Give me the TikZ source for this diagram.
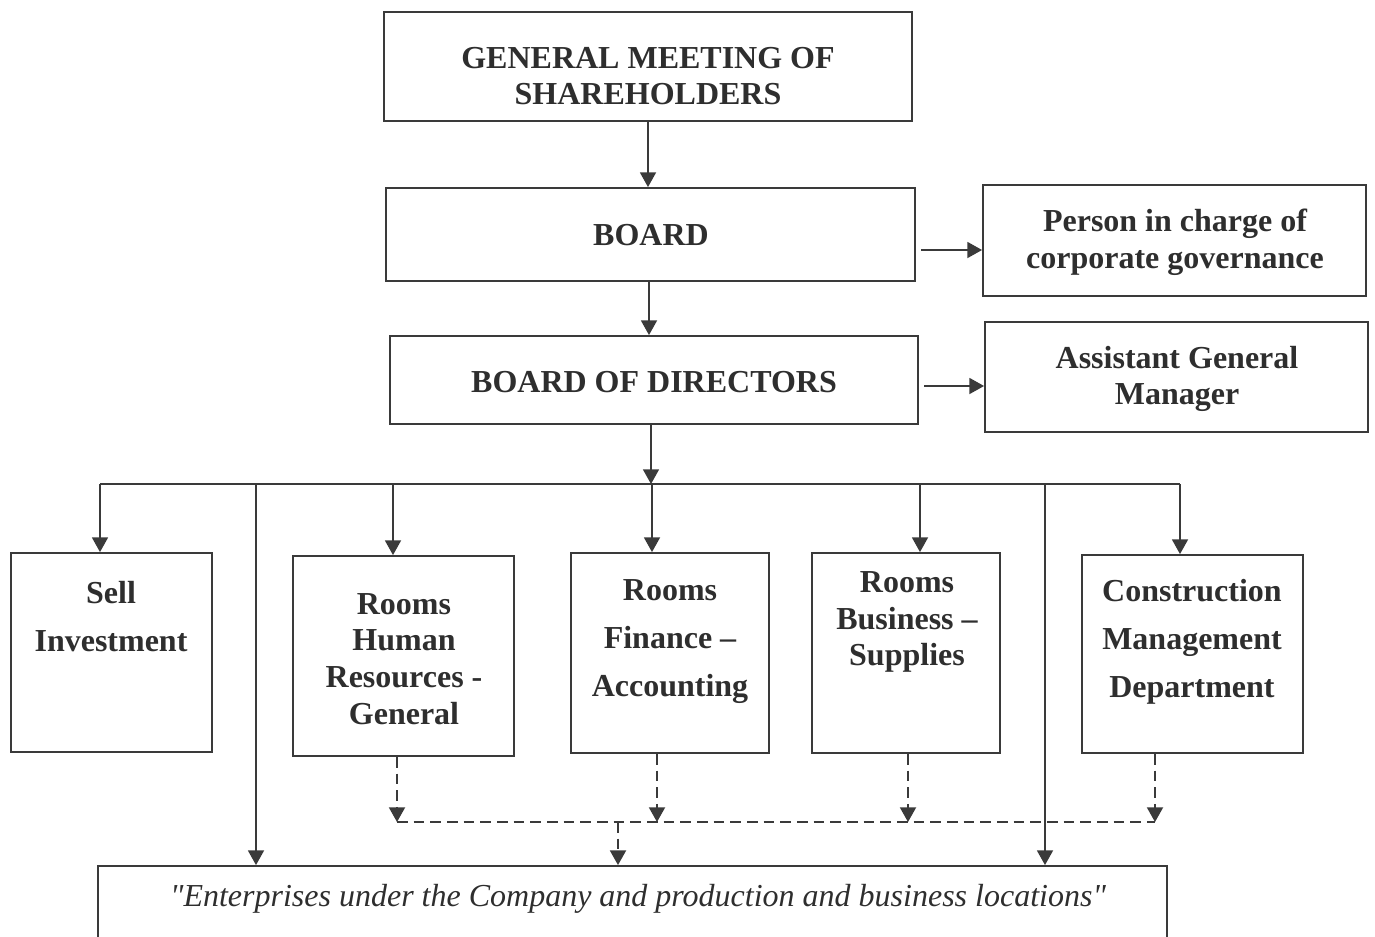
\documentclass[tikz,border=0pt]{standalone}
\usepackage{fontspec}
\setmainfont{Liberation Serif}
\usetikzlibrary{arrows.meta,fit}
\definecolor{ink}{HTML}{3A3A3A}
\definecolor{txtc}{HTML}{2E2E2E}
\tikzset{
  box/.style={draw=ink, line width=1.4pt, inner sep=0pt, fit=#1},
  lbl/.style={text=txtc, align=center, font=\bfseries\fontsize{24}{27.5}\selectfont, inner sep=0pt},
  lblw/.style={text=txtc, align=center, font=\bfseries\fontsize{24}{36}\selectfont, inner sep=0pt},
  conn/.style={draw=ink, line width=1.1pt},
  arr/.style={conn, -{Triangle[width=12pt,length=11pt]}},
  darr/.style={arr, line width=1.4pt, dash pattern=on 8pt off 4.5pt},
  dln/.style={conn, line width=1.4pt, dash pattern=on 8pt off 4.5pt},
}
\begin{document}
\begin{tikzpicture}[x=0.75pt,y=-0.75pt]
\useasboundingbox (0,0) rectangle (1375,936);
% corners
\coordinate (g1) at (384,12);   \coordinate (g2) at (912,121);
\coordinate (b1) at (386,188);  \coordinate (b2) at (915,281);
\coordinate (p1) at (983,185);  \coordinate (p2) at (1366,296);
\coordinate (d1) at (390,336);  \coordinate (d2) at (918,424);
\coordinate (a1) at (985,322);  \coordinate (a2) at (1368,432);
\coordinate (s1) at (11,553);   \coordinate (s2) at (212,752);
\coordinate (h1) at (293,556);  \coordinate (h2) at (514,756);
\coordinate (f1) at (571,553);  \coordinate (f2) at (769,753);
\coordinate (u1) at (812,553);  \coordinate (u2) at (1000,753);
\coordinate (c1) at (1082,555); \coordinate (c2) at (1303,753);
\coordinate (e1) at (98,866);   \coordinate (e2) at (1167,950);
% boxes
\node[box=(g1)(g2)] (gms) {};
\node[box=(b1)(b2)] (board) {};
\node[box=(p1)(p2)] (pic) {};
\node[box=(d1)(d2)] (bod) {};
\node[box=(a1)(a2)] (agm) {};
\node[box=(s1)(s2)] (sell) {};
\node[box=(h1)(h2)] (hr) {};
\node[box=(f1)(f2)] (fin) {};
\node[box=(u1)(u2)] (bus) {};
\node[box=(c1)(c2)] (con) {};
\node[box=(e1)(e2)] (ent) {};
% texts
\node[lbl] (tgms) at (648,76) {GENERAL MEETING OF\\SHAREHOLDERS};
\node[lbl] (tboard) at (651,235) {BOARD};
\node[lbl] (tpic) at (1175,242) {Person in charge of\\corporate governance};
\node[lbl] (tbod) at (654,382) {BOARD OF DIRECTORS};
\node[lbl] (tagm) at (1177,379) {Assistant General\\Manager};
\node[lblw] (tsell) at (111,617) {Sell\\Investment};
\node[lbl] (thr) at (404,659) {Rooms\\Human\\Resources -\\General};
\node[lblw] (tfin) at (670,642) {Rooms\\Finance --\\Accounting};
\node[lbl] (tbus) at (907,622) {Rooms\\Business --\\Supplies};
\node[lblw] (tcon) at (1192,642) {Construction\\Management\\Department};
\node[text=txtc, font=\itshape\fontsize{24}{27}\selectfont, inner sep=0pt] (tent) at (638,899) {\textquotedbl Enterprises under the Company and production and business locations\textquotedbl};
% connectors top
\draw[arr] (gms.south -| 648,0) -- (board.north -| 648,0);
\draw[arr] (board.south -| 649,0) -- (bod.north -| 649,0);
\draw[arr] ([xshift=4pt]board.east |- 0,250) -- (pic.west |- 0,250);
\draw[arr] ([xshift=4pt]bod.east |- 0,386) -- (agm.west |- 0,386);
% bus
\coordinate (busl) at (100,484);
\coordinate (busr) at (1180,484);
\coordinate (busm) at (651,484);
\draw[arr] (bod.south -| busm) -- (busm);
\draw[conn] (busl) -- (busr);
\draw[arr] (busl) -- (sell.north -| busl);
\draw[arr] (393,484) -- (hr.north -| 393,0);
\draw[arr] (652,484) -- (fin.north -| 652,0);
\draw[arr] (920,484) -- (bus.north -| 920,0);
\draw[arr] (busr) -- (con.north -| busr);
\draw[arr] (256,484) -- (ent.north -| 256,0);
\draw[arr] (1045,484) -- (ent.north -| 1045,0);
% dashed
\coordinate (dl) at (397,822);
\coordinate (dr) at (1155,822);
\coordinate (dm) at (618,822);
\draw[darr] (hr.south -| dl) -- (dl);
\draw[darr] (fin.south -| 657,0) -- (657,822);
\draw[darr] (bus.south -| 908,0) -- (908,822);
\draw[darr] (con.south -| dr) -- (dr);
\draw[dln] (dl) -- (dr);
\draw[darr] (dm) -- (ent.north -| dm);
\end{tikzpicture}
\end{document}
